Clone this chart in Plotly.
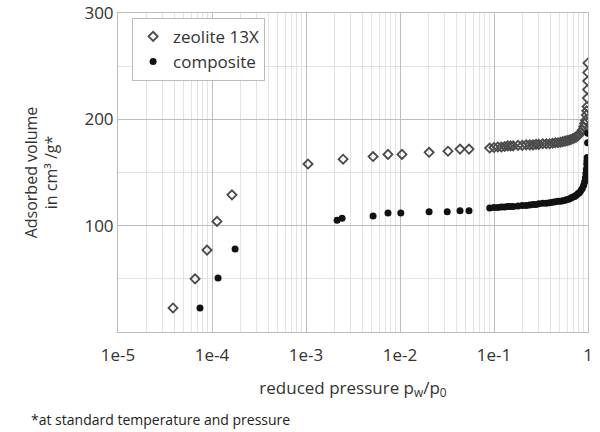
import plotly.graph_objects as go

# zeolite 13X (open markers)
zeo_x = [3.85e-5, 6.6e-5, 8.85e-5, 1.13e-4, 1.63e-4,
         1.05e-3, 2.48e-3, 5.17e-3, 7.45e-3, 1.05e-2, 2.04e-2, 3.24e-2, 4.35e-2, 5.42e-2,
         0.09, 0.10, 0.11, 0.12, 0.13, 0.14, 0.15, 0.16, 0.18, 0.20, 0.22, 0.24, 0.26, 0.28,
         0.30, 0.33, 0.36, 0.39, 0.42, 0.45, 0.48, 0.51, 0.54, 0.57, 0.60, 0.63, 0.66, 0.69,
         0.72, 0.75, 0.78, 0.81, 0.84, 0.87, 0.90, 0.92, 0.94, 0.96, 0.97, 0.98, 0.985, 0.99,
         0.993, 0.996, 0.998]
zeo_y = [22.6, 50.0, 77.0, 104.0, 129.0,
         158.0, 162.5, 165.0, 167.0, 167.0, 169.0, 170.0, 172.0, 172.0,
         173.0, 173.5, 174.0, 174.0, 174.5, 175.0, 175.0, 175.0, 175.5, 175.5, 176.0, 176.0, 176.0, 176.5,
         176.5, 177.0, 177.0, 177.0, 177.5, 178.0, 178.0, 178.5, 179.0, 179.5, 180.0, 180.5, 181.0, 182.0,
         182.5, 183.5, 184.5, 186.0, 188.0, 190.0, 193.0, 196.0, 199.0, 204.0, 208.0, 212.0, 220.0, 228.0,
         236.0, 244.0, 253.0]

# composite (filled markers)
comp_x = [7.45e-5, 1.16e-4, 1.76e-4,
          2.14e-3, 2.42e-3, 5.17e-3, 7.45e-3, 1.02e-2, 2.04e-2, 3.18e-2, 4.35e-2, 5.42e-2,
          0.09, 0.10, 0.11, 0.12, 0.13, 0.14, 0.15, 0.16, 0.18, 0.20, 0.22, 0.24, 0.26, 0.28,
          0.30, 0.33, 0.36, 0.39, 0.42, 0.45, 0.48, 0.51, 0.54, 0.57, 0.60, 0.63, 0.66, 0.69,
          0.72, 0.75, 0.78, 0.81, 0.84, 0.87, 0.90, 0.92, 0.94, 0.95, 0.96, 0.97, 0.975, 0.98,
          0.99, 0.995]
comp_y = [22.6, 50.8, 78.0,
          105.0, 107.0, 109.0, 112.0, 112.0, 113.0, 113.0, 114.0, 114.0,
          116.5, 117.0, 117.0, 117.5, 117.5, 118.0, 118.0, 118.0, 118.5, 119.0, 119.0, 119.5, 120.0, 120.0,
          120.5, 121.0, 121.0, 121.5, 122.0, 122.5, 123.0, 123.0, 123.5, 124.0, 124.5, 125.0, 126.0, 127.0,
          127.5, 128.5, 130.0, 131.0, 133.0, 135.0, 138.0, 141.0, 145.0, 149.0, 153.0, 158.0, 161.0, 164.0,
          178.0, 187.0]

x_ticks = [1e-5, 1e-4, 1e-3, 1e-2, 1e-1, 1]
x_labels = ["1e-5", "1e-4", "1e-3", "1e-2", "1e-1", "1"]
y_ticks = [100, 200, 300]
y_minor = [50, 150, 250]

x_minor = [m * 10 ** e for e in range(-5, 0) for m in range(2, 10)]

font_family = "Open Sans"
txt = "#333333"

fig = go.Figure()
fig.add_trace(go.Scatter(
    x=zeo_x, y=zeo_y, mode="markers", name="zeolite 13X",
    marker=dict(symbol="diamond-open", size=7, color="#4a4a4a", line=dict(width=1.8, color="#4a4a4a")),
))
fig.add_trace(go.Scatter(
    x=comp_x, y=comp_y, mode="markers", name="composite",
    marker=dict(symbol="circle", size=7, color="#111111"),
))

fig.update_layout(
    width=600, height=432,
    margin=dict(l=118, r=12, t=13, b=100),
    paper_bgcolor="white", plot_bgcolor="white",
    font=dict(family=font_family, color=txt),
    showlegend=True,
    legend=dict(
        x=0.03, y=0.985, xanchor="left", yanchor="top",
        bgcolor="white", bordercolor="#bbbbbb", borderwidth=1,
        font=dict(size=17, color=txt),
        itemwidth=30, tracegroupgap=0,
    ),
    xaxis=dict(
        type="log", range=[-5, 0], automargin=False,
        tickmode="array", tickvals=x_ticks, ticktext=x_labels,
        tickfont=dict(size=17, color=txt),
        showgrid=True, gridcolor="#bdbdbd", gridwidth=1,
        minor=dict(tickmode="array", tickvals=x_minor, showgrid=True, gridcolor="#e2e2e2", gridwidth=1, ticklen=0),
        showline=True, linecolor="#bdbdbd", linewidth=1, mirror=True,
        ticks="outside", ticklen=8, tickcolor="rgba(0,0,0,0)", zeroline=False,
        title=dict(text="reduced pressure p<sub>w</sub>/p<sub>0</sub>", font=dict(size=17, color=txt), standoff=16),
    ),
    yaxis=dict(
        range=[0, 300], automargin=False,
        tickmode="array", tickvals=y_ticks,
        tickfont=dict(size=17, color=txt),
        showgrid=True, gridcolor="#bdbdbd", gridwidth=1,
        minor=dict(tickmode="array", tickvals=y_minor, showgrid=True, gridcolor="#e2e2e2", gridwidth=1, ticklen=0),
        showline=True, linecolor="#bdbdbd", linewidth=1, mirror=True,
        ticks="", zeroline=False,
        title=dict(text="Adsorbed volume<br>in cm³ /g*", font=dict(size=16, color=txt), standoff=22),
    ),
    annotations=[dict(
        text="*at standard temperature and pressure", xref="paper", yref="paper",
        x=-0.19, y=-0.275, xanchor="left", yanchor="middle", showarrow=False,
        font=dict(size=14, color="#222222"),
    )],
)

fig.write_html("out.html")
